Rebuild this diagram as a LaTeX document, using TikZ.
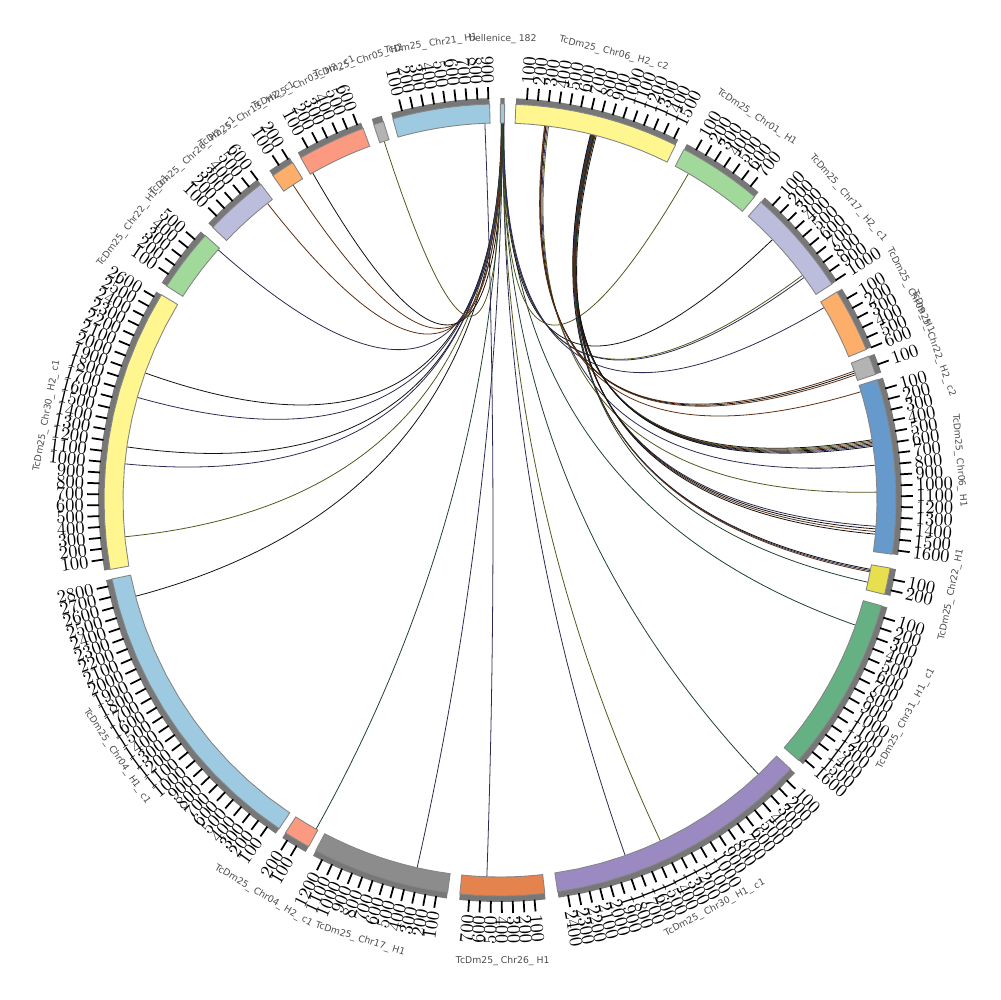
\documentclass[tikz,border=0pt]{standalone}
\usepackage{fontspec}
\usepackage{tikz}
\usetikzlibrary{calc}
\newfontfamily\namefont{DejaVu Sans}

\definecolor{cBlueL}{HTML}{9ECAE1}
\definecolor{cYel}{HTML}{FFF68F}
\definecolor{cGrnL}{HTML}{A1D99B}
\definecolor{cLav}{HTML}{BCBDDC}
\definecolor{cOrg}{HTML}{FDAE6B}
\definecolor{cGryL}{HTML}{B3B3B3}
\definecolor{cBlue}{HTML}{6699CC}
\definecolor{cYelD}{HTML}{E8DF4E}
\definecolor{cGrn}{HTML}{66B183}
\definecolor{cPur}{HTML}{9B8AC2}
\definecolor{cRust}{HTML}{E5834F}
\definecolor{cGry}{HTML}{8C8C8C}
\definecolor{cSal}{HTML}{FB9A80}
\definecolor{cBand}{HTML}{777777}
\definecolor{cEdge}{HTML}{858585}
\definecolor{cName}{HTML}{4D4D4D}
\definecolor{lkA}{HTML}{111111}
\definecolor{lkB}{HTML}{55551F}
\definecolor{lkC}{HTML}{2B2B52}
\definecolor{lkD}{HTML}{5C2E12}
\definecolor{lkE}{HTML}{21402E}

\def\Rin{377}
\def\Rout{396}
\def\Rband{402}
\def\scl{0.0156}

\newcommand{\ideo}[5]{%
  \pgfmathsetmacro{\aA}{90-#2}%
  \pgfmathsetmacro{\aB}{90-#2-#3*\scl}%
  \fill[band] plot[domain=\aA:\aB, samples=12] (\x:\Rout) -- plot[domain=\aB:\aA, samples=12] (\x:\Rband) -- cycle;
  \draw[chrom, fill=#4] plot[domain=\aA:\aB, samples=12] (\x:\Rin) -- plot[domain=\aB:\aA, samples=12] (\x:\Rout) -- cycle;
  \pgfmathtruncatemacro{\nt}{#3/100}%
  \ifnum\nt>0
    \foreach \k in {1,...,\nt}{%
      \pgfmathtruncatemacro{\v}{\k*100}%
      \pgfmathsetmacro{\tang}{#2+\v*\scl}%
      \ifdim\tang pt>180pt
        \pgfmathsetmacro{\rotl}{270-\tang}\def\anc{east}%
      \else
        \pgfmathsetmacro{\rotl}{90-\tang}\def\anc{west}%
      \fi
      \draw[tickmark] ({90-\tang}:401) -- ({90-\tang}:413);
      \node[ticklab, anchor=\anc, rotate=\rotl] (#1-\v) at ({90-\tang}:416) {\v};
    }%
  \fi
  \pgfmathsetmacro{\amid}{#2+#3*\scl/2}%
  \pgfmathsetmacro{\rotn}{(\amid>90 && \amid<270) ? 180-\amid : -\amid}%
  \node[chrlab, rotate=\rotn] (#1) at ({90-\amid}:461) {#5};
}

\newcommand{\chord}[3]{%
  \coordinate (ca) at ({90-#1}:\Rin);
  \coordinate (cb) at ({90-#2}:\Rin);
  \draw[link, draw=#3] (ca) .. controls ($(ca)!0.667!(ctr)$) and ($(cb)!0.667!(ctr)$) .. (cb);
}

\begin{document}
\begin{tikzpicture}[x=0.02cm, y=0.02cm,
  band/.style={fill=cBand},
  chrom/.style={draw=cEdge, line width=0.5pt},
  tickmark/.style={draw=black, line width=1pt},
  ticklab/.style={font=\fontsize{10.5}{10.5}\selectfont, inner sep=0pt},
  chrlab/.style={font=\namefont\fontsize{5.3}{6}\selectfont, text=cName, inner sep=0pt},
  link/.style={line width=0.45pt}]
\fill[white] (-500,-500) rectangle (500,500);
\useasboundingbox (-500,-500) rectangle (500,500);
\coordinate (ctr) at (0,0);

\foreach \s/\e/\c in {
  0.20/289.7/lkA, 0.30/285.8/lkC, 0.40/278.1/lkA, 0.25/275.5/lkC, 0.35/264.4/lkB, 0.45/255.2/lkA,
  0.30/311.6/lkC, 0.40/321.9/lkD, 0.20/326.7/lkD, 0.50/330.2/lkA, 0.35/342.1/lkB,
  0.30/209.2/lkE, 0.40/192.7/lkC, 0.50/160.6/lkC, 0.45/154.8/lkB, 0.35/136.7/lkE,
  0.55/109.4/lkE, 0.55/30.0/lkB, 0.50/46.3/lkA, 0.45/53.4/lkB, 0.55/53.8/lkC, 0.60/59.3/lkC,
  357.7/182.0/lkC,
  7.0/73.3/lkD, 7.2/84.7/lkC, 7.4/88.8/lkB, 6.8/70.0/lkD, 7.0/70.3/lkA, 6.9/70.6/lkD,
  14.0/80.8/lkA, 14.1/81.0/lkB, 14.3/81.2/lkD, 14.4/81.4/lkA, 14.5/81.6/lkC, 14.6/81.8/lkA,
  14.2/94.0/lkC, 14.4/94.4/lkA, 14.6/94.8/lkD, 14.8/95.2/lkA,
  13.9/100.6/lkA, 14.1/100.8/lkC, 14.3/101.0/lkD, 14.5/102.6/lkE}
  {\chord{\s}{\e}{\c}}

\ideo{bel}{0.05}{40}{cBlueL}{bellenice\_ 182}
\ideo{c06b}{2.3}{1540}{cYel}{TcDm25\_ Chr06\_ H2\_ c2}
\ideo{c01}{27.7}{790}{cGrnL}{TcDm25\_ Chr01\_ H1}
\ideo{c17b}{41.2}{1010}{cLav}{TcDm25\_ Chr17\_ H2\_ c1}
\ideo{c09}{58.3}{600}{cOrg}{TcDm25\_ Chr09\_ H1}
\ideo{c22b}{68.7}{180}{cGryL}{TcDm25\_ Chr22\_ H2\_ c2}
\ideo{c06}{72.3}{1640}{cBlue}{TcDm25\_ Chr06\_ H1}
\ideo{c22}{99.9}{250}{cYelD}{TcDm25\_ Chr22\_ H1}
\ideo{c31}{105.5}{1640}{cGrn}{TcDm25\_ Chr31\_ H1\_ c1}
\ideo{c30}{132.8}{2490}{cPur}{TcDm25\_ Chr30\_ H1\_ c1}
\ideo{c26}{173.5}{790}{cRust}{TcDm25\_ Chr26\_ H1}
\ideo{c17}{187.6}{1290}{cGry}{TcDm25\_ Chr17\_ H1}
\ideo{c04b}{208.9}{250}{cSal}{TcDm25\_ Chr04\_ H2\_ c1}
\ideo{c04}{213.9}{2860}{cBlueL}{TcDm25\_ Chr04\_ H1\_ c1}
\ideo{c30b}{259.9}{2650}{cYel}{TcDm25\_ Chr30\_ H2\_ c1}
\ideo{c22c}{302.7}{590}{cGrnL}{TcDm25\_ Chr22\_ H1\_ c1}
\ideo{c26b}{313.5}{600}{cLav}{TcDm25\_ Chr26\_ H2\_ c1}
\ideo{c13}{325.0}{220}{cOrg}{TcDm25\_ Chr13\_ H2\_ c1}
\ideo{c03}{329.8}{640}{cSal}{TcDm25\_ Chr03\_ H2\_ c1}
\ideo{c05}{341.4}{95}{cGryL}{TcDm25\_ Chr05\_ H2}
\ideo{c21}{344.3}{910}{cBlueL}{TcDm25\_ Chr21\_ H1}
\end{tikzpicture}
\end{document}
